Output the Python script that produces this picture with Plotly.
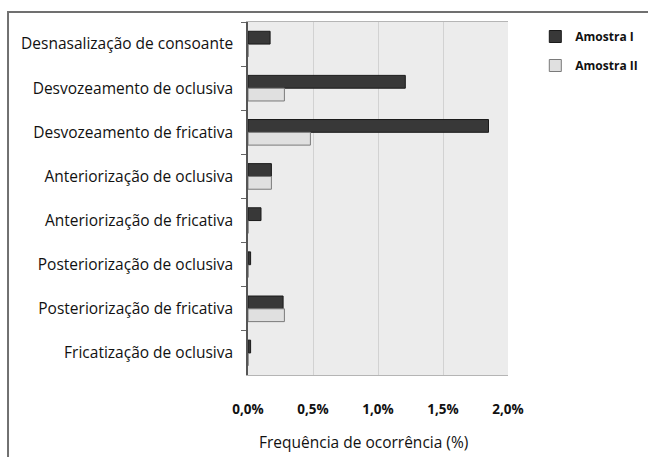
import plotly.graph_objects as go

categories = [
    "Desnasalização de consoante",
    "Desvozeamento de oclusiva",
    "Desvozeamento de fricativa",
    "Anteriorização de oclusiva",
    "Anteriorização de fricativa",
    "Posteriorização de oclusiva",
    "Posteriorização de fricativa",
    "Fricatização de oclusiva",
]
amostra_1 = [0.17, 1.21, 1.85, 0.18, 0.10, 0.02, 0.27, 0.02]
amostra_2 = [0.0, 0.28, 0.48, 0.18, 0.0, 0.0, 0.28, 0.0]
series_names = ["Amostra I", "Amostra II"]
tick_vals = [0, 0.5, 1.0, 1.5, 2.0]
tick_text = ["0,0%", "0,5%", "1,0%", "1,5%", "2,0%"]
x_title = "Frequência de ocorrência (%)"

FONT = "Open Sans"

fig = go.Figure()
fig.add_trace(go.Bar(
    y=categories, x=amostra_1, orientation="h", name=series_names[0],
    legendgroup="a1",
    marker=dict(color="#383838", line=dict(color="#1a1a1a", width=1)),
))
fig.add_trace(go.Bar(
    y=categories, x=amostra_2, orientation="h", name=series_names[1],
    legendgroup="a2",
    marker=dict(color="#e0e0e0", line=dict(color="#7a7a7a", width=1)),
))

fig.update_layout(
    width=648, height=457,
    margin=dict(l=248, r=140, t=22, b=82, autoexpand=False),
    paper_bgcolor="white",
    plot_bgcolor="#ececec",
    barmode="group",
    bargap=0.42,
    bargroupgap=0.0,
    font=dict(family=FONT, color="#111111", size=13),
    legend=dict(
        x=1.105, y=1.0, xanchor="left", yanchor="top",
        font=dict(family=FONT, size=12, color="#111111", weight="bold"),
        itemwidth=30, tracegroupgap=10, bgcolor="rgba(0,0,0,0)",
    ),
    xaxis=dict(
        range=[0, 2.0], tickvals=tick_vals, ticktext=tick_text,
        showgrid=True, gridcolor="#d2d2d2", gridwidth=1,
        zeroline=False, showline=True, mirror=True,
        linecolor="#b5b5b5", linewidth=1, ticks="",
        tickfont=dict(family=FONT, size=13.5, color="#111111", weight="bold"),
        ticklabelstandoff=22,
    ),
    yaxis=dict(
        autorange="reversed", tickson="boundaries",
        showline=True, linecolor="#555555", linewidth=1.5,
        ticks="outside", ticklen=5, tickcolor="#666666",
        showgrid=False, ticklabelstandoff=10,
        tickfont=dict(family=FONT, size=15.5, color="#111111"),
    ),
    annotations=[
        dict(text=x_title, xref="paper", yref="paper", x=0.445, y=-0.19,
             xanchor="center", yanchor="middle", showarrow=False,
             font=dict(family=FONT, size=15.5, color="#111111")),
    ],
    shapes=[
        dict(type="rect", xref="paper", yref="paper",
             x0=-0.923, x1=1.6, y0=-0.3, y1=1.028,
             line=dict(color="#707070", width=2), fillcolor="rgba(0,0,0,0)",
             layer="below"),
    ],
)

fig.write_html("out.html")
